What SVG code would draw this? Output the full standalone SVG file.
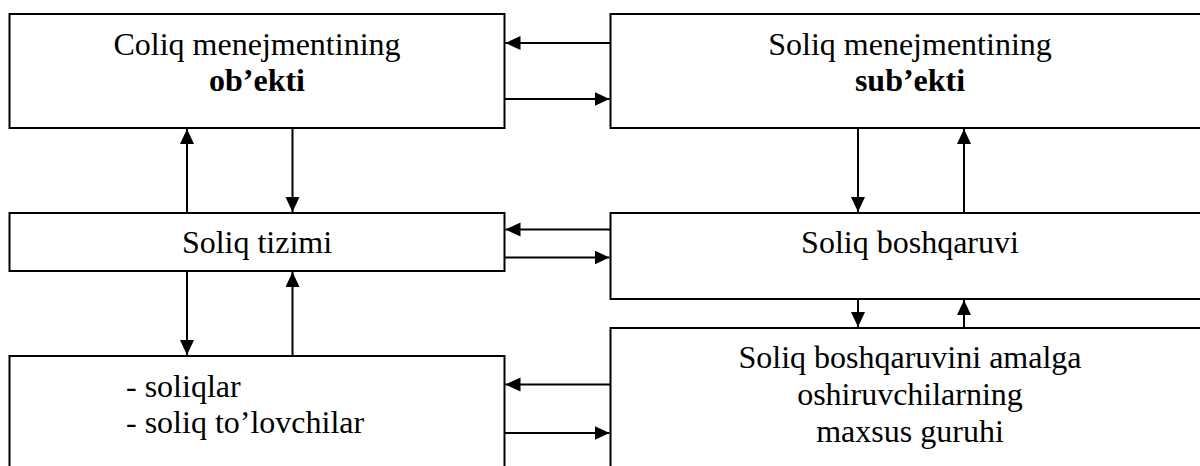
<svg xmlns="http://www.w3.org/2000/svg" width="1200" height="466" viewBox="0 0 1200 466">
<style>
.box{fill:#fff;stroke:#000;stroke-width:2}
.t{font-family:"Liberation Serif","Times New Roman",serif;font-size:32px;fill:#000}
.c{text-anchor:middle}
.b{font-weight:bold}
.ln{stroke:#000;stroke-width:2;fill:none;marker-end:url(#ah)}
</style>
<defs>
<marker id="ah" markerUnits="userSpaceOnUse" markerWidth="16" markerHeight="15" refX="15" refY="7" orient="auto">
<path d="M0,0 L15,7 L0,14 z" fill="#000"/>
</marker>
</defs>
<rect width="1200" height="466" fill="#fff"/>
<g id="node-obekti">
<rect class="box" x="9.5" y="14" width="495" height="114"/>
<text class="t c" x="257" y="55">Coliq menejmentining</text>
<text class="t c b" x="257" y="91">ob’ekti</text>
</g>
<g id="node-subekti">
<rect class="box" x="610.5" y="14" width="600" height="114"/>
<text class="t c" x="910" y="55">Soliq menejmentining</text>
<text class="t c b" x="910" y="91">sub’ekti</text>
</g>
<g id="node-tizimi">
<rect class="box" x="9.5" y="213" width="495" height="58"/>
<text class="t c" x="257" y="253">Soliq tizimi</text>
</g>
<g id="node-boshqaruvi">
<rect class="box" x="610.5" y="213" width="600" height="86"/>
<text class="t c" x="910" y="253">Soliq boshqaruvi</text>
</g>
<g id="node-soliqlar">
<rect class="box" x="9.5" y="356" width="495" height="200"/>
<text class="t" x="126" y="397">- soliqlar</text>
<text class="t" x="126" y="433">- soliq to’lovchilar</text>
</g>
<g id="node-guruh">
<rect class="box" x="610.5" y="328" width="600" height="200"/>
<text class="t c" x="910" y="368">Soliq boshqaruvini amalga</text>
<text class="t c" x="910" y="405">oshiruvchilarning</text>
<text class="t c" x="910" y="442">maxsus guruhi</text>
</g>
<g id="connectors">
<line class="ln" x1="610.5" y1="43" x2="505.5" y2="43"/>
<line class="ln" x1="504.5" y1="99" x2="609.5" y2="99"/>
<line class="ln" x1="187" y1="213" x2="187" y2="129"/>
<line class="ln" x1="292.5" y1="128" x2="292.5" y2="212"/>
<line class="ln" x1="610.5" y1="229.5" x2="505.5" y2="229.5"/>
<line class="ln" x1="504.5" y1="257.5" x2="609.5" y2="257.5"/>
<line class="ln" x1="858" y1="128" x2="858" y2="212"/>
<line class="ln" x1="964" y1="213" x2="964" y2="129"/>
<line class="ln" x1="187" y1="271" x2="187" y2="355"/>
<line class="ln" x1="292.5" y1="356" x2="292.5" y2="272"/>
<line class="ln" x1="858" y1="299" x2="858" y2="327"/>
<line class="ln" x1="964" y1="328" x2="964" y2="300"/>
<line class="ln" x1="610.5" y1="384.5" x2="505.5" y2="384.5"/>
<line class="ln" x1="504.5" y1="433" x2="609.5" y2="433"/>
</g>
</svg>
